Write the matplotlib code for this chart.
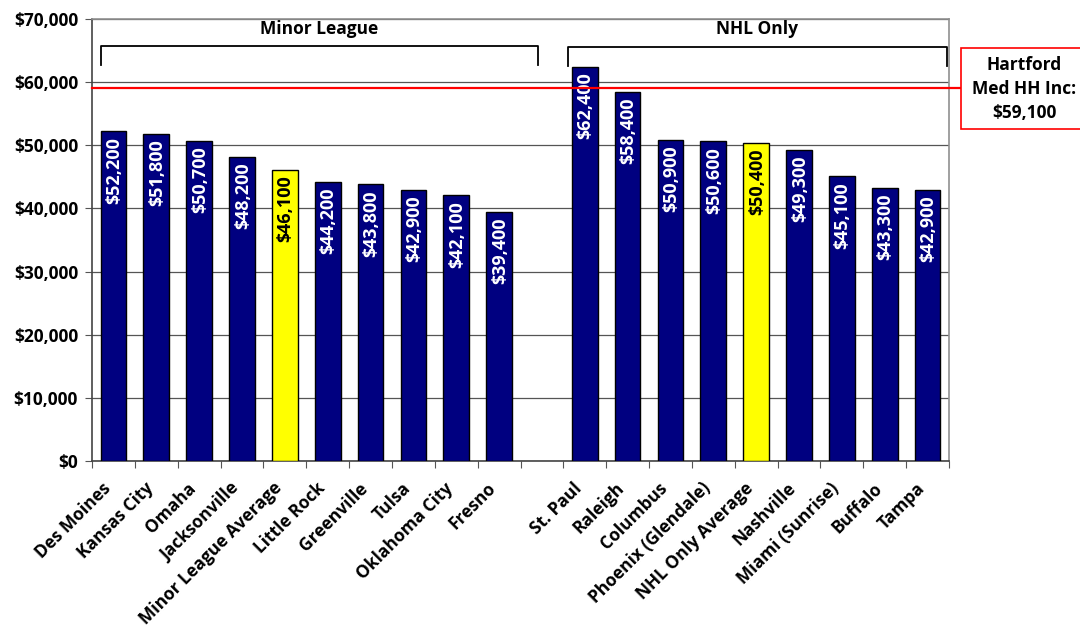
import matplotlib
matplotlib.use("Agg")
import matplotlib.pyplot as plt
import matplotlib.transforms as mtransforms
from matplotlib.patches import Rectangle

# Median household income by market
minor_cities = ["Des Moines", "Kansas City", "Omaha", "Jacksonville", "Minor League Average",
                "Little Rock", "Greenville", "Tulsa", "Oklahoma City", "Fresno"]
minor_values = [52200, 51800, 50700, 48200, 46100, 44200, 43800, 42900, 42100, 39400]

nhl_cities = ["St. Paul", "Raleigh", "Columbus", "Phoenix (Glendale)", "NHL Only Average",
              "Nashville", "Miami (Sunrise)", "Buffalo", "Tampa"]
nhl_values = [62400, 58400, 50900, 50600, 50400, 49300, 45100, 43300, 42900]

hartford_income = 59100
y_ticks = [0, 10000, 20000, 30000, 40000, 50000, 60000, 70000]

FONT = ["Open Sans", "DejaVu Sans"]
plt.rcParams["font.family"] = FONT
NAVY = "#000080"
YELLOW = "#FFFF00"

labels = minor_cities + [""] + nhl_cities
values = minor_values + [None] + nhl_values

fig = plt.figure(figsize=(10.8, 6.28), dpi=100)
ax = fig.add_axes([92 / 1080, 1 - 461 / 628, (949 - 92) / 1080, (461 - 19) / 628])

n = len(labels)
for i, (lab, v) in enumerate(zip(labels, values)):
    if v is None:
        continue
    is_avg = "Average" in lab
    color = YELLOW if is_avg else NAVY
    ax.bar(i, v, width=0.6, color=color, edgecolor="black", linewidth=1.0, zorder=3)
    ax.text(i + 0.02, v - 900, f"${v:,.0f}", rotation=90, ha="center", va="top",
            color="black" if is_avg else "white", fontsize=13, fontweight="bold",
            zorder=4)

ax.set_xlim(-0.5, n - 0.5)
ax.set_ylim(0, 70000)
ax.set_yticks(y_ticks)
ax.set_yticklabels([f"${t:,.0f}" for t in y_ticks], fontsize=12.5, fontweight="bold")
ax.yaxis.grid(True, color="#555555", linewidth=0.9, zorder=0)
ax.set_axisbelow(True)

# category ticks sit on the boundaries between bars
ax.set_xticks([i - 0.5 for i in range(n + 1)], minor=False)
ax.set_xticklabels([])
ax.set_xticks(range(n), minor=True)
ax.set_xticklabels(labels, minor=True, rotation=45, ha="right", rotation_mode="anchor",
                   fontsize=12.5, fontweight="bold")
ax.tick_params(axis="x", which="minor", length=0, pad=13)
ax.tick_params(axis="x", which="major", length=5, color="#555555", direction="out")
ax.tick_params(axis="y", length=5, color="#555555", direction="out", pad=5)
shift = mtransforms.ScaledTranslation(-12 / 100, 0, fig.dpi_scale_trans)
for lab in ax.get_xticklabels(minor=True):
    lab.set_transform(lab.get_transform() + shift)

for side in ("top", "right"):
    ax.spines[side].set_color("#909090")
    ax.spines[side].set_linewidth(1.2)
for side in ("left", "bottom"):
    ax.spines[side].set_color("#444444")
    ax.spines[side].set_linewidth(1.2)

# Hartford reference line extending out to its callout box
trans = ax.get_yaxis_transform()
ax.plot([0, 1 + 12 / 857], [hartford_income, hartford_income], transform=trans,
        color="#FF0000", linewidth=1.6, clip_on=False, zorder=5)
box = Rectangle((961 / 1080, 1 - 129 / 628), 125 / 1080, 81 / 628, transform=fig.transFigure,
                facecolor="white", edgecolor="#FF0000", linewidth=1.2)
fig.patches.append(box)
fig.text(1024 / 1080, 1 - 89 / 628, f"Hartford\nMed HH Inc:\n${hartford_income:,.0f}",
         ha="center", va="center", fontsize=12.5, fontweight="bold", linespacing=1.45)

# Group brackets
def bracket(x0, x1, y_top, y_bot, title):
    inv = fig.transFigure.inverted()
    fx0 = inv.transform(ax.transData.transform((x0, 0)))[0]
    fx1 = inv.transform(ax.transData.transform((x1, 0)))[0]
    yt = 1 - y_top / 628
    yb = 1 - y_bot / 628
    fig.lines.append(plt.Line2D([fx0, fx0, fx1, fx1], [yb, yt, yt, yb],
                                transform=fig.transFigure, color="black", linewidth=1.3))
    fig.text((fx0 + fx1) / 2, 1 - 29 / 628, title, ha="center", va="center",
             fontsize=12.5, fontweight="bold")

bracket(-0.3, 9.9, 46, 65, "Minor League")
bracket(10.6, 19.45, 47, 66, "NHL Only")

fig.savefig("out.png", dpi=100)
